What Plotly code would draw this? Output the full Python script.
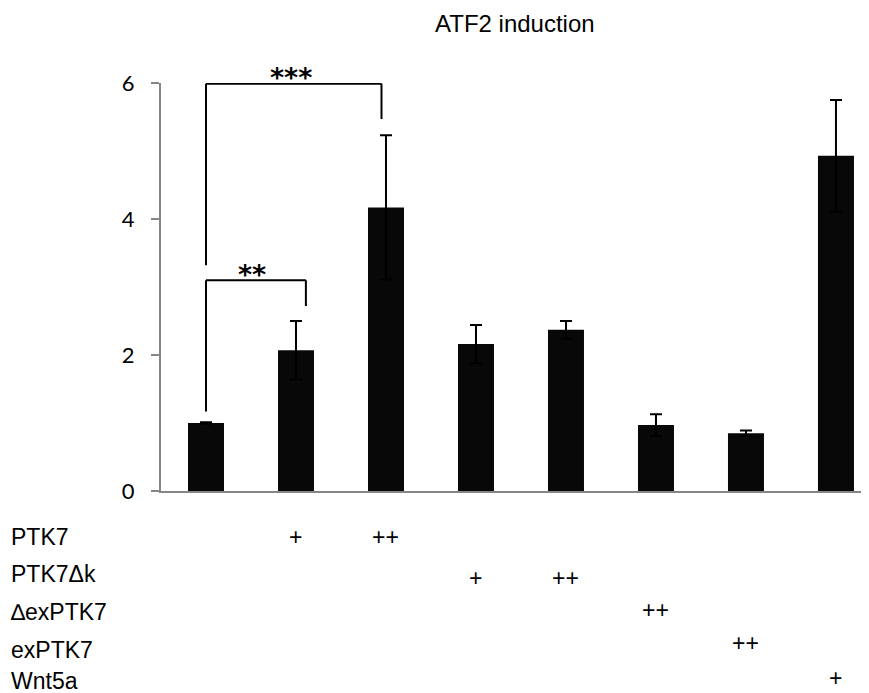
import plotly.graph_objects as go

# ---- data ----
conditions = ["ctrl", "PTK7 +", "PTK7 ++", "PTK7dk +", "PTK7dk ++", "dexPTK7 ++", "exPTK7 ++", "Wnt5a +"]
values = [1.00, 2.07, 4.17, 2.16, 2.37, 0.97, 0.85, 4.93]
errors = [0.01, 0.43, 1.06, 0.28, 0.13, 0.16, 0.04, 0.82]

y_ticks = [0, 2, 4, 6]

row_labels = ["PTK7", "PTK7\u0394k", "\u2206exPTK7", "exPTK7", "Wnt5a"]
row_marks = [
    ["", "+", "++", "", "", "", "", ""],
    ["", "", "", "+", "++", "", "", ""],
    ["", "", "", "", "", "++", "", ""],
    ["", "", "", "", "", "", "++", ""],
    ["", "", "", "", "", "", "", "+"],
]

# significance brackets: (left index, right index, left bottom, top, right bottom, label)
brackets = [
    (0, 1.11, 1.17, 3.10, 2.72, "**"),
    (0, 1.95, 3.32, 5.99, 5.47, "***"),
]

# ---- layout constants (pixels) ----
OFF = 8  # page body margin
W, H = 869 - OFF, 693 - OFF
L, R, T, B = 161 - OFF, 0, 83 - OFF, 202
plot_h = H - T - B
plot_w = W - L - R

def py_to_paper(py):  # page pixel y -> paper
    return (H - B - (py - OFF)) / plot_h

def px_to_paper(px):  # page pixel x -> paper
    return ((px - OFF) - L) / plot_w

label_px_y = [537, 574, 612, 650, 681]
mark_px_y = [537, 578, 610, 643, 678]

x_idx = list(range(len(values)))

fig = go.Figure()
fig.add_trace(go.Bar(
    x=x_idx, y=values,
    marker=dict(color="#080808", line=dict(width=0)),
    width=0.4,
    error_y=dict(type="data", array=errors, visible=True, color="#000000", thickness=2, width=6),
    showlegend=False,
))

shapes = []
annotations = []
for (xl, xr, yl, yt, yr, lab) in brackets:
    for (x0, y0, x1, y1) in [(xl, yl, xl, yt), (xl, yt, xr, yt), (xr, yt, xr, yr)]:
        shapes.append(dict(type="line", xref="x", yref="y", x0=x0, y0=y0, x1=x1, y1=y1,
                           line=dict(color="black", width=2)))
    annotations.append(dict(x=(xl + xr) / 2 - (0.04 if lab == "**" else 0.03), y=yt, xref="x", yref="y",
                            text="<b>" + lab + "</b>", showarrow=False, yanchor="middle", yshift=6,
                            font=dict(family="DejaVu Sans", size=27, color="black")))

# table labels
for lab, py in zip(row_labels, label_px_y):
    annotations.append(dict(x=px_to_paper(9), y=py_to_paper(py), xref="paper", yref="paper",
                            text=lab, showarrow=False, xanchor="left", yanchor="middle",
                            font=dict(family="Liberation Sans, Arial", size=23, color="black")))
for marks, py in zip(row_marks, mark_px_y):
    for i, m in enumerate(marks):
        if m:
            annotations.append(dict(x=i, y=py_to_paper(py), xref="x", yref="paper",
                                    text=m, showarrow=False, xanchor="center", yanchor="middle",
                                    font=dict(family="Liberation Sans, Arial", size=23, color="black")))

# title
annotations.append(dict(x=px_to_paper(515), y=py_to_paper(23), xref="paper", yref="paper",
                        text="ATF2 induction", showarrow=False, xanchor="center", yanchor="middle",
                        font=dict(family="Liberation Sans, Arial", size=24, color="black")))

fig.update_layout(
    width=W, height=H,
    margin=dict(l=L, r=R, t=T, b=B, pad=0),
    plot_bgcolor="white", paper_bgcolor="white",
    shapes=shapes, annotations=annotations,
    xaxis=dict(range=[-0.5, 7.367], showticklabels=False, ticks="", showgrid=False,
               zeroline=False, showline=True, linecolor="#868686", linewidth=2, fixedrange=True),
    yaxis=dict(range=[0, 6], tickvals=y_ticks, ticks="outside", ticklen=8, tickwidth=2,
               tickcolor="#868686", showgrid=False, zeroline=False, showline=True,
               linecolor="#868686", linewidth=2,
               tickfont=dict(family="Lato, Open Sans", size=22, color="black"),
               ticklabelstandoff=12),
)

fig.write_html("out.html")
